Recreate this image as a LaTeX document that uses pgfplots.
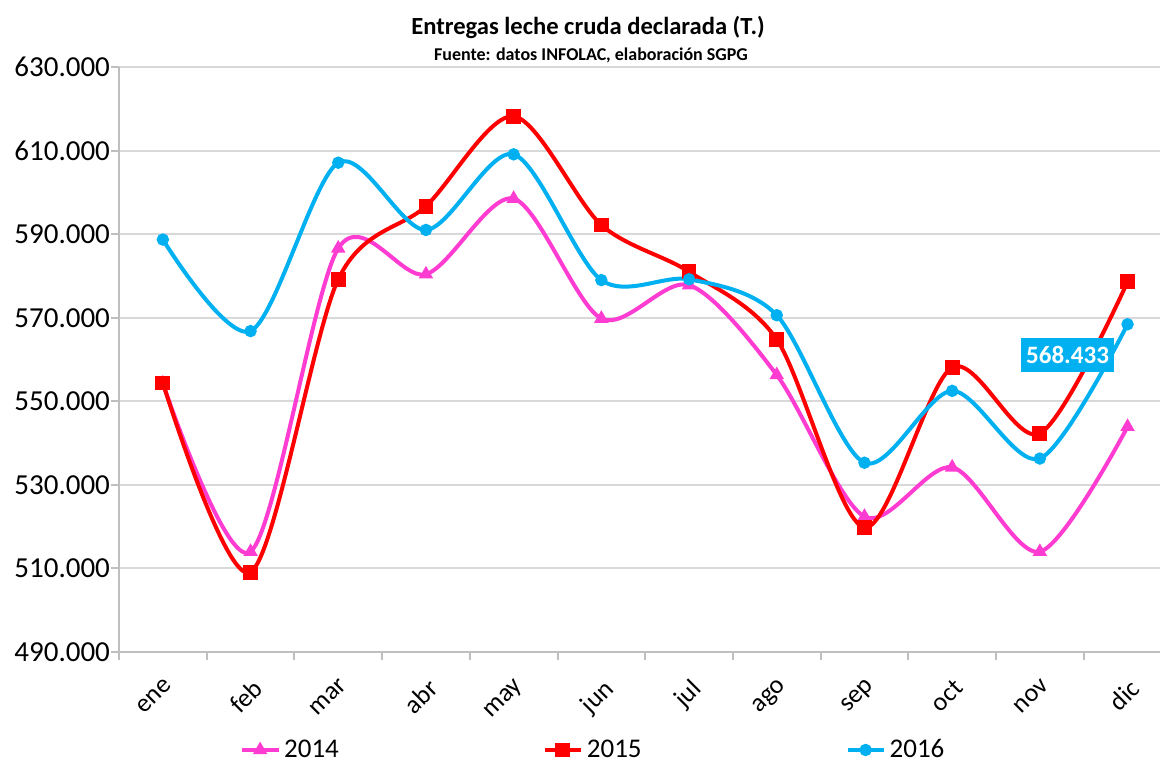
\documentclass[border=0pt]{standalone}
\usepackage{pgfplots}
\pgfplotsset{compat=1.18}
\usepackage{fontspec}
\setmainfont{Carlito}
\definecolor{cPink}{RGB}{255,60,210}
\definecolor{cRed}{RGB}{255,0,0}
\definecolor{cBlue}{RGB}{0,176,240}
\definecolor{cGrid}{RGB}{217,217,217}
\definecolor{cAxis}{RGB}{191,191,191}
\begin{document}
\begin{tikzpicture}
\path[use as bounding box] (-59.5pt,-55pt) rectangle (520.5pt,326pt);
\begin{axis}[
  at={(0pt,0pt)}, anchor=south west,
  scale only axis, width=520.5pt, height=292.5pt,
  xmin=-0.5, xmax=11.37, ymin=490, ymax=630,
  clip=false,
  axis x line*=bottom, axis y line*=left,
  axis line style={cAxis, line width=1pt},
  xtick={0,...,11},
  xticklabels={ene,feb,mar,abr,may,jun,jul,ago,sep,oct,nov,dic},
  major x tick style={draw=none},
  minor xtick={-0.5,0.5,...,10.5},
  minor x tick style={cAxis, line width=1pt},
  ytick={490,510,...,630},
  yticklabels={490.000,510.000,530.000,550.000,570.000,590.000,610.000,630.000},
  y tick style={cAxis, line width=1pt},
  tick align=outside, major tick length=4pt, minor tick length=4pt,
  ymajorgrids, grid style={cGrid, line width=1pt},
  x tick label style={rotate=45, anchor=north east, font=\fontsize{13}{13}\selectfont, yshift=-3pt, xshift=-2.5pt},
  y tick label style={font=\fontsize{14.5}{14.5}\selectfont, xshift=3pt},
  legend columns=3,
  legend style={at={(0.116,-0.1675)}, anchor=west, draw=none, fill=none,
    font=\fontsize{13.5}{13.5}\selectfont,
    /tikz/every even column/.append style={column sep=100pt},
    inner sep=0pt},
  legend image code/.code={\draw[mark repeat=2,mark phase=2,#1] plot coordinates {(0pt,0pt) (9pt,0pt) (18pt,0pt)};},
]
\addplot[cPink, line width=2pt, smooth, mark=triangle*, mark size=3.2pt, mark options={solid, line width=1pt}]
coordinates {(0,554.3) (1,514.0) (2,586.6) (3,580.4) (4,598.5) (5,569.8) (6,577.8) (7,556.3) (8,522.4) (9,534.2) (10,514.0) (11,543.9)};
\addlegendentry{2014}
\addplot[cRed, line width=2pt, smooth, mark=square*, mark size=3.2pt, mark options={solid, line width=1pt}]
coordinates {(0,554.4) (1,509.1) (2,579.2) (3,596.7) (4,618.2) (5,592.2) (6,581.0) (7,564.8) (8,519.8) (9,558.1) (10,542.3) (11,578.6)};
\addlegendentry{2015}
\addplot[cBlue, line width=2pt, smooth, mark=*, mark size=2.6pt, mark options={solid, line width=1pt}]
coordinates {(0,588.7) (1,566.8) (2,607.1) (3,591.0) (4,609.1) (5,579.0) (6,579.2) (7,570.6) (8,535.3) (9,552.5) (10,536.3) (11,568.433)};
\addlegendentry{2016}
\node[fill=cBlue, text=white, font=\bfseries\fontsize{12.5}{12.5}\selectfont, inner xsep=2.5pt, inner ysep=3pt, minimum height=17pt]
  at (axis cs:11,568.433) [xshift=-30pt, yshift=-15.5pt] {568.433};
\end{axis}
\node[font=\bfseries\fontsize{12.3}{12.3}\selectfont] at (234.5pt,312.5pt) {Entregas leche cruda declarada (T.)};
\node[font=\bfseries\fontsize{9}{9}\selectfont] at (236pt,298.5pt) {Fuente: datos INFOLAC, elaboración SGPG};
\end{tikzpicture}
\end{document}
